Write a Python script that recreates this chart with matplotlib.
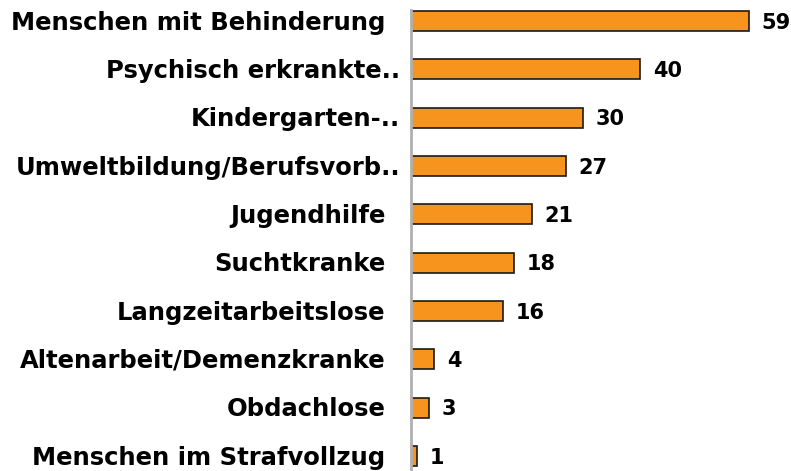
import matplotlib
matplotlib.use("Agg")
import matplotlib.pyplot as plt
from matplotlib.transforms import offset_copy

# Daten
kategorien = ["Menschen mit Behinderung", "Psychisch erkrankte..", "Kindergarten-..",
              "Umweltbildung/Berufsvorb..", "Jugendhilfe", "Suchtkranke",
              "Langzeitarbeitslose", "Altenarbeit/Demenzkranke", "Obdachlose",
              "Menschen im Strafvollzug"]
werte = [59, 40, 30, 27, 21, 18, 16, 4, 3, 1]

fig = plt.figure(figsize=(7.91, 4.71), dpi=100)
ax = fig.add_axes([0.52, 0.0, 0.48, 1.0])

pos = list(range(len(kategorien)))
ax.barh(pos, werte, height=0.42, color="#F7941D", edgecolor="#1a1a1a", linewidth=1.2)

# Werte rechts neben den Balken (Grundlinie so, dass die Ziffern mittig sitzen)
t_wert = offset_copy(ax.transData, fig=fig, x=0, y=-7.6, units="dots")
for p, w in zip(pos, werte):
    ax.text(w + 2.2, p, str(w), transform=t_wert, va="baseline", ha="left",
            fontsize=15, fontweight="bold", color="black")

# Beschriftungen: abgekuerzte Labels ragen mit ".." etwas weiter nach rechts
trans = ax.get_yaxis_transform()
for p, k in zip(pos, kategorien):
    dx = -11 if k.endswith("..") else -26
    t = offset_copy(trans, fig=fig, x=dx, y=-8.6, units="dots")
    ax.text(0, p, k, transform=t, ha="right", va="baseline",
            fontsize=17.5, fontweight="bold", color="black")

ax.set_yticks([])
ax.set_xticks([])

ax.set_xlim(0, 66.3)
ax.set_ylim(9.31, -0.434)

for s in ["top", "right", "bottom"]:
    ax.spines[s].set_visible(False)
ax.spines["left"].set_color("#b0b0b0")
ax.spines["left"].set_linewidth(2)
ax.spines["left"].set_bounds(9.31, -0.22)

fig.savefig("out.png", dpi=100)
